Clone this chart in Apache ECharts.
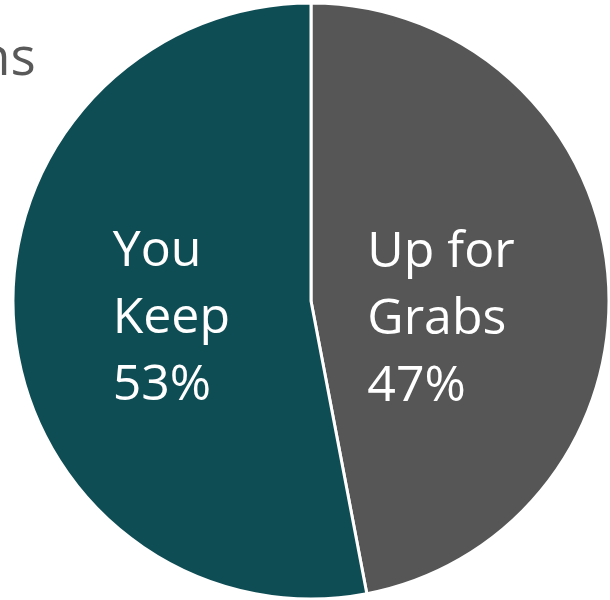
<!DOCTYPE html>
<html>
<head>
<meta charset="utf-8">
<script src="https://cdn.jsdelivr.net/npm/echarts@6/dist/echarts.min.js"></script>
<style>
  html, body { margin: 0; padding: 0; background: #fff; }
  #main { width: 610px; height: 600px; }
</style>
</head>
<body>
<div id="main"></div>
<script>
var names = ['Up for\nGrabs', 'You\nKeep'];
var values = [47, 53];
var colors = ['#565656', '#0f4d55'];
// nudges so the inside labels land where the original put them
var labelOffsets = [[-35, 33], [13, 3]];

var chart = echarts.init(document.getElementById('main'));

var data = names.map(function (n, i) {
  return {
    name: n,
    value: values[i],
    itemStyle: { color: colors[i] },
    label: { offset: labelOffsets[i] }
  };
});

chart.setOption({
  animation: false,
  graphic: [{
    type: 'text',
    left: -22,
    top: 33,
    style: { text: 'ns', fill: '#595959', font: '53px "Open Sans"' }
  }],
  series: [{
    type: 'pie',
    center: [311, 301],
    radius: 298,
    startAngle: 90,
    clockwise: true,
    data: data,
    itemStyle: { borderColor: '#ffffff', borderWidth: 3 },
    label: {
      position: 'inside',
      formatter: function (p) {
        return p.name.split('\n').concat(p.percent.toFixed(0) + '%').map(function (s) {
          return '{a|' + s + '}';
        }).join('\n');
      },
      rich: {
        a: {
          color: '#ffffff',
          fontFamily: 'Open Sans',
          fontSize: 50,
          lineHeight: 67,
          width: 120,
          align: 'left'
        }
      }
    },
    labelLine: { show: false }
  }]
});
</script>
</body>
</html>
